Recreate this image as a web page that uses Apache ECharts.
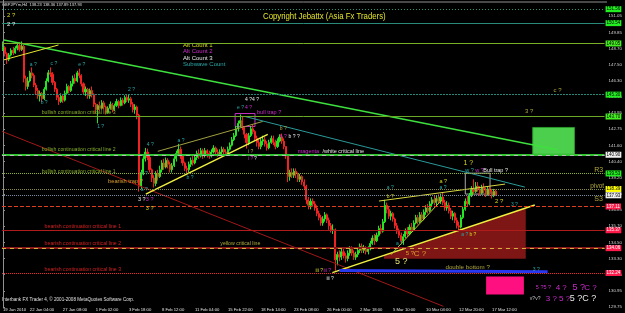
<!DOCTYPE html>
<html>
<head>
<meta charset="utf-8">
<script src="https://cdn.jsdelivr.net/npm/echarts@6/dist/echarts.min.js"></script>
<style>
  html, body { margin: 0; background: #000; }
  #chart { width: 625px; height: 313px; }
</style>
</head>
<body>
<div id="chart"></div>
<script>
// GBPJPY H4 bars, [close, low, high]; open = previous close
const firstOpen = 148.6;
const bars = [
  [148.75,148.5,149.2],[148.3,148.1,148.85],[147.9,147.55,148.4],[148.2,147.75,148.35],[148.55,148.1,148.7],
  [148.35,148.2,148.8],[148.7,148.3,148.85],[148.9,148.55,149.1],[148.6,148.45,149.15],[148.85,148.5,149.2],
  [146.5,146.2,148.95],[145.9,145.6,146.7],[146.3,145.7,146.6],[146.9,146.2,147.05],[146.7,146.5,147.3],
  [146.0,145.85,146.85],[145.6,145.3,146.15],[145.2,145.0,145.8],[145.4,144.8,145.6],[145.0,144.75,145.5],
  [145.7,144.9,145.85],[146.3,145.6,146.5],[146.9,146.2,147.1],[146.8,146.6,147.3],[146.2,146.0,146.95],
  [145.7,145.5,146.3],[145.1,144.9,145.8],[144.8,144.55,145.3],[145.2,144.7,145.4],[144.9,144.7,145.35],
  [145.4,144.8,145.6],[145.9,145.3,146.1],[145.6,145.4,146.0],[146.1,145.5,146.3],[146.5,145.9,146.7],
  [146.3,146.1,146.8],[146.9,146.2,147.05],[146.7,146.5,147.2],[146.1,145.9,146.8],[145.5,145.3,146.2],
  [145.7,145.2,145.9],[145.2,145.0,145.8],[145.6,145.0,145.75],[145.3,145.1,145.9],[144.6,144.4,145.4],
  [144.2,143.9,144.7],[144.5,143.2,144.6],[144.3,144.1,144.8],[144.7,144.2,144.9],[144.4,144.2,144.85],
  [144.0,143.85,144.5],[144.3,143.9,144.45],[144.6,144.2,144.8],[144.2,144.0,144.7],[144.5,144.1,144.65],
  [144.8,144.4,145.0],[144.5,144.3,144.9],[144.9,144.45,145.1],[144.7,144.5,145.05],[145.1,144.6,145.25],
  [144.9,144.75,145.3],[145.0,144.7,145.35],[144.6,144.4,145.15],[144.2,144.0,144.75],[144.4,143.9,144.6],
  [143.8,143.5,144.5],[138.6,138.2,143.9],[139.6,138.4,139.8],[140.6,139.4,140.8],[141.1,140.4,141.4],
  [140.7,140.5,141.35],[139.8,139.6,140.9],[139.2,138.9,139.9],[138.8,138.5,139.4],[139.5,138.6,139.7],
  [139.3,139.0,139.8],[139.8,139.2,140.1],[140.3,139.6,140.5],[140.0,139.8,140.6],[140.5,139.9,140.7],
  [140.2,139.9,140.65],[139.8,139.6,140.4],[140.1,139.6,140.3],[140.6,140.0,140.8],[141.0,140.4,141.2],
  [141.3,140.8,141.7],[140.8,140.6,141.5],[140.3,140.1,140.9],[139.9,139.7,140.4],[139.8,139.5,140.1],
  [140.2,139.6,140.4],[140.5,140.0,140.7],[140.3,140.1,140.8],[140.7,140.2,140.9],[141.0,140.5,141.2],
  [140.8,140.6,141.3],[141.2,140.7,141.4],[140.9,140.6,141.35],[141.2,140.7,141.4],[141.0,140.7,141.3],
  [140.8,140.6,141.2],[141.1,140.7,141.3],[141.4,141.0,141.6],[141.1,140.9,141.5],[140.9,140.75,141.3],
  [141.1,140.8,141.3],[141.3,140.9,141.5],[141.1,140.95,141.45],[141.0,140.9,141.3],[141.3,140.95,141.5],
  [141.6,141.2,141.8],[142.0,141.5,142.2],[142.3,141.9,142.5],[142.8,142.2,143.0],[143.2,142.6,143.4],
  [143.4,142.9,143.85],[142.9,142.7,143.7],[142.4,142.1,143.0],[141.8,141.35,142.5],[142.3,141.6,142.5],
  [142.8,142.2,143.0],[142.6,142.4,143.1],[142.1,141.9,142.7],[141.8,141.5,142.3],[141.5,141.3,142.0],
  [141.9,141.3,142.1],[142.0,141.6,142.3],[141.7,141.5,142.2],[141.4,141.2,141.9],[141.8,141.3,142.0],
  [142.1,141.7,142.3],[141.8,141.6,142.3],[141.5,141.3,142.0],[141.9,141.4,142.1],[142.2,141.8,142.4],
  [141.9,141.7,142.45],[141.5,141.3,142.1],[140.8,140.6,141.5],[139.3,138.9,140.9],[139.6,139.0,139.8],
  [139.4,139.2,139.9],[139.7,139.2,139.9],[139.5,139.2,139.9],[139.1,138.9,139.6],[139.3,138.9,139.5],
  [138.9,138.7,139.4],[138.6,138.4,139.1],[137.6,137.3,138.7],[137.2,136.9,137.8],[137.5,136.9,137.7],
  [137.3,137.1,137.7],[137.0,136.8,137.5],[136.6,136.4,137.2],[136.3,136.1,136.8],[135.9,135.7,136.5],
  [136.2,135.7,136.4],[136.5,136.0,136.7],[136.1,135.9,136.6],[135.7,135.4,136.3],[135.4,135.2,135.9],
  [135.4,135.1,135.8],[133.2,132.4,135.5],[133.6,132.8,133.8],[133.4,133.1,133.9],[133.8,133.2,134.0],
  [133.5,133.3,134.0],[133.3,133.0,133.7],[133.7,133.1,133.9],[134.0,133.5,134.2],[133.7,133.5,134.2],
  [133.4,133.2,133.9],[133.6,133.2,133.8],[133.9,133.4,134.1],[134.2,133.7,134.4],[133.9,133.7,134.4],
  [134.1,133.7,134.3],[133.8,133.6,134.2],[134.0,133.6,134.2],[134.4,133.9,134.6],[134.8,134.3,135.0],
  [134.6,134.3,135.1],[135.0,134.5,135.2],[135.5,134.9,135.7],[135.3,135.1,135.8],[136.0,135.2,136.2],
  [137.2,135.9,137.6],[136.9,136.6,137.4],[136.4,136.2,137.1],[136.6,136.1,136.8],[136.2,136.0,136.7],
  [135.7,135.5,136.3],[135.3,135.1,135.9],[135.0,134.8,135.5],[134.6,134.4,135.2],[134.9,134.3,135.1],
  [135.3,134.8,135.5],[135.1,134.9,135.6],[135.6,135.0,135.8],[135.4,135.2,135.9],[135.9,135.3,136.1],
  [136.3,135.8,136.5],[136.0,135.8,136.5],[136.5,135.9,136.7],[136.2,136.0,136.7],[136.7,136.1,136.9],
  [137.0,136.5,137.2],[136.8,136.6,137.3],[137.3,136.7,137.5],[137.6,137.1,137.8],[137.4,137.2,137.9],
  [137.7,137.2,137.95],[137.5,137.3,138.0],[137.8,137.3,138.05],[137.4,137.2,138.1],[137.0,136.8,137.6],
  [137.2,136.8,137.5],[136.8,136.6,137.4],[136.4,136.2,137.0],[136.6,136.1,136.8],[136.1,135.9,136.7],
  [135.7,135.5,136.3],[135.6,135.3,136.0],[136.3,135.5,136.5],[136.9,136.2,137.1],[137.5,136.8,137.7],
  [137.3,137.1,137.9],[137.9,137.2,138.1],[138.4,137.8,138.6],[138.2,138.0,139.1],[138.6,138.1,138.9],
  [138.4,138.2,138.9],[138.1,137.9,138.6],[138.5,138.0,138.7],[138.3,138.1,138.8],[138.0,137.8,138.5],
  [138.4,137.9,138.6],[138.2,137.9,138.6],[137.9,137.7,138.4],[138.23,137.8,138.4],[137.93,137.89,138.36]
];
const slots = 292;

const dateTickIdx = [0, 13, 29, 45, 61, 77, 93, 109, 125, 141, 157, 173, 189, 205, 221, 237];
const dateTickText = ['19 Jan 2010', '22 Jan 04:00', '27 Jan 08:00', '1 Feb 02:00', '3 Feb 18:00', '8 Feb 12:00',
  '11 Feb 04:00', '15 Feb 22:00', '18 Feb 14:00', '23 Feb 08:00', '26 Feb 00:00', '2 Mar 18:00',
  '5 Mar 10:00', '10 Mar 04:00', '12 Mar 20:00', '17 Mar 12:00'];

const priceMin = 129.75;
const priceStep = 21.3 / 18;
const priceTicks = ['129.75', '130.95', '132.15', '133.30', '134.50', '135.70', '136.85', '138.05', '139.20',
  '140.40', '141.60', '142.75', '143.95', '145.15', '146.30', '147.50', '148.70', '149.85', '151.05'];

// horizontal levels
const levelPrices = [151.56, 150.54, 149.05, 145.30, 143.70, 140.90, 139.53, 138.39, 137.93, 137.11, 135.37, 134.06, 132.24];

// trend lines, [bar index, price] end points
const trendLines = [
  [[0.46, 149.30], [268.7, 141.26]],
  [[0.46, 147.85], [26.9, 148.94]],
  [[-0.5, 142.61], [213.4, 129.80]],
  [[69.2, 138.02], [128.3, 142.39]],
  [[75.0, 141.15], [125.9, 143.34]],
  [[117.3, 143.70], [252.9, 138.53]],
  [[159.6, 132.27], [257.7, 137.22]],
  [[188.0, 133.58], [212.5, 137.58]],
  [[182.2, 137.51], [243.3, 138.75]],
  [[163.0, 132.42], [263.9, 132.34]]
];

// boxes and zones, [bar index, price] corners
const shapes = [
  [[184.6, 133.53], [253.3, 137.0], [253.3, 133.29], [184.6, 133.29]],
  [[112.5, 143.92], [122.1, 143.92], [122.1, 142.97], [112.5, 142.97]],
  [[224.0, 139.55], [236.0, 139.55], [236.0, 138.02], [224.0, 138.02]],
  [[256.7, 142.90], [276.9, 142.90], [276.9, 140.93], [256.7, 140.93]],
  [[234.1, 131.98], [252.4, 131.98], [252.4, 130.67], [234.1, 130.67]]
];

const TEAL = '#2aa8a8', YEL = '#d8d820', MAG = '#cc2ccc', WHT = '#e8e8e8', OLV = '#b0a840',
      GRN = '#84ac2c', RED = '#d42020', ORG = '#dca030';

// text objects: [bar index, price, text]
const notes = [
  [1.9, 151.12, '2 ?'], [1.9, 150.47, '2 ?'],
  [12.96, 147.48, 'a ?'], [23.06, 147.56, 'c ?'], [36.5, 147.48, 'e ?'], [18.25, 144.72, 'b ?'],
  [45.65, 142.97, '1 ?'], [60.56, 145.66, '2 ?'], [69.7, 141.66, '4 ?'], [84.6, 141.95, 'a ?'],
  [88.9, 139.19, 'b ?'], [66.8, 139.55, 'b ?'], [66.8, 138.31, 'a ?'],
  [65.37, 137.66, '3 ?'], [69.2, 137.66, '3 ?'], [69.2, 137.00, '3 ?'],
  [50.94, 138.97, 'bearish trap ?'],
  [18.73, 143.99, 'bullish continuation critical line 3'],
  [18.73, 141.30, 'bullish continuation critical line 2'],
  [18.73, 139.70, 'bullish continuation critical line 1'],
  [20.17, 135.62, 'bearish continuation critical line 1'],
  [20.17, 134.38, 'bearish continuation critical line 2'],
  [20.17, 132.49, 'bearish continuation critical line 3'],
  [105.3, 134.38, 'yellow critical line'],
  [142.8, 141.15, 'magenta'], [154.8, 141.15, '/white critical line'],
  [123.1, 143.99, 'bull trap ?'], [113.4, 144.35, 'e ?'], [117.3, 144.35, '4 ?'], [117.3, 144.94, '4 ?4 ?'],
  [134.1, 142.83, 'b ?'], [134.1, 142.24, 'b ?'], [138.4, 142.24, 'b ? ?'],
  [118.7, 141.15, 'i ?'], [118.7, 140.64, 'i ?'], [121.6, 140.64, '?'],
  [186.0, 138.46, 'a ?'], [186.0, 137.80, 'b ?'],
  [151.4, 132.42, 'iii ?'], [155.3, 132.42, 'iii ?'], [156.7, 131.84, 'iii ?'],
  [190.4, 134.38, 'a ?'], [189.9, 133.07, '5 ?'], [195.2, 133.66, '5 ?'], [199.0, 133.66, 'C ?'],
  [222.1, 135.04, 'a ?'], [226.0, 135.04, 'b ?'],
  [214.4, 132.64, 'double bottom ?'], [256.7, 132.49, '3 ?'],
  [258.2, 131.18, '5 ?5 ?'], [267.8, 131.18, '4 ?'], [276.0, 131.18, '5 ?'], [281.7, 131.18, 'C ?'],
  [255.3, 130.38, 'v?v?'], [263.0, 130.38, '3 ? 5 ?'], [274.6, 130.38, '5 ?C ?'],
  [223.1, 140.28, '1 ?'], [224.0, 139.77, 'w ?'], [228.8, 139.77, 'w ?'], [232.7, 139.77, 'Bull trap ?'],
  [211.5, 138.97, 'a ?'], [211.5, 138.46, 'a ?'],
  [252.9, 144.06, '3 ?'], [266.8, 145.59, 'c ?'], [238.4, 137.51, '2 ?'], [246.1, 137.22, '3 ?'],
  [286.5, 139.77, 'R3'], [284.6, 138.61, 'pivot'], [286.5, 137.66, 'S3']
];
const noteStyle = [
  [YEL, 6], [WHT, 6],
  [TEAL, 5], [TEAL, 5], [TEAL, 5], [TEAL, 5],
  [TEAL, 5], [TEAL, 5], [TEAL, 5], [TEAL, 5],
  [TEAL, 5], [TEAL, 5], [TEAL, 5],
  [WHT, 5.5], [MAG, 5.5], [YEL, 5.5],
  [ORG, 5.7],
  [GRN, 5.2], [GRN, 5.2], [GRN, 5.2],
  [RED, 5.2], [RED, 5.2], [RED, 5.2],
  [OLV, 5.2],
  [MAG, 5.5], [WHT, 5.5],
  [MAG, 5.5], [TEAL, 5], [MAG, 5], [WHT, 5],
  [OLV, 5], [MAG, 5], [WHT, 5],
  [OLV, 5], [MAG, 5], [WHT, 5],
  [TEAL, 5], [YEL, 5],
  [YEL, 5], [MAG, 5], [WHT, 5],
  [TEAL, 5], ['#e6e070', 9], [ORG, 6], [ORG, 8],
  [TEAL, 5], [YEL, 5],
  [OLV, 6.2], [TEAL, 5],
  [MAG, 5.5], [MAG, 8], [MAG, 9], [MAG, 8],
  ['#c0c0c0', 5], [MAG, 8], [WHT, 9],
  [YEL, 7], [TEAL, 5.5], [MAG, 5.5], [WHT, 5.5],
  [YEL, 5.5], [TEAL, 5],
  [OLV, 6], [OLV, 6], [YEL, 6], [TEAL, 5],
  [OLV, 7], [OLV, 6.5], [OLV, 7]
];

const FONT = '"Liberation Sans", Arial, sans-serif';

const levelLook = [
  { color: '#2f9a7a', type: [1, 2], width: 1, box: '#22ee22', ink: '#000' },
  { color: '#2a8a7a', type: 'solid', width: 1, box: '#22ee22', ink: '#000' },
  { color: '#7ab028', type: 'solid', width: 1, box: '#44ee22', ink: '#000' },
  { color: '#2a8a7a', type: [2, 1], width: 1, box: '#22ee22', ink: '#000' },
  { color: '#6aa828', type: 'solid', width: 1, box: '#44ee22', ink: '#000' },
  { color: '#33c833', type: 'solid', width: 2, box: '#f0f0f0', ink: '#000', over: '#b8b8b8' },
  { color: '#98b838', type: [1, 1], width: 1, box: '#22ee22', ink: '#000' },
  { color: '#909050', type: [1, 1], width: 1, box: '#ffff00', ink: '#000' },
  { color: '#8090a8', type: [1, 1], width: 1, box: '#f0f0f0', ink: '#000' },
  { color: '#e04020', type: [4, 2], width: 1, box: '#ff1a4a', ink: '#fff' },
  { color: '#b01c1c', type: 'solid', width: 1, box: '#ff1a4a', ink: '#fff' },
  { color: '#8a1a1a', type: 'solid', width: 2, box: '#ff1a4a', ink: '#fff', over: '#d8b040' },
  { color: '#ff2a2a', type: [1, 1], width: 1, box: '#ff1a4a', ink: '#fff' }
];

const lineLook = [
  { color: '#3ee03e', width: 1.5 },
  { color: '#e8e830', width: 1 },
  { color: '#a01818', width: 1 },
  { color: '#f0f040', width: 1.5 },
  { color: '#a0a040', width: 1 },
  { color: '#2a9a9a', width: 1 },
  { color: '#f0f040', width: 1.5 },
  { color: '#c8c830', width: 1 },
  { color: '#d8d840', width: 1 },
  { color: '#2838f0', width: 3 }
];

const shapeLook = [
  { fill: '#7e1616', stroke: 'none' },
  { fill: 'none', stroke: '#c030c0' },
  { fill: 'none', stroke: '#a8a8a8' },
  { fill: '#4ccf4c', stroke: '#2a9a2a' },
  { fill: '#ff1080', stroke: 'none' }
];

const ohlc = bars.map((b, i) => [i === 0 ? firstOpen : bars[i - 1][0], b[0], b[1], b[2]]);
const cats = Array.from({ length: slots }, (_, i) => i);

const markLines = [];
levelPrices.forEach((p, k) => {
  const s = levelLook[k];
  markLines.push({
    yAxis: p,
    lineStyle: { color: s.color, type: s.type, width: s.width },
    label: {
      show: true, position: 'end', distance: 1, formatter: p.toFixed(2),
      backgroundColor: s.box, color: s.ink, fontSize: 4.5, fontFamily: FONT, padding: [1, 1, 0, 1]
    }
  });
  if (s.over) {
    markLines.push({ yAxis: p, lineStyle: { color: s.over, type: [4, 4], width: 1 }, label: { show: false } });
  }
});

const chart = echarts.init(document.getElementById('chart'));
chart.setOption({
  animation: false,
  backgroundColor: '#000',
  grid: { left: 0, right: 18, top: -2, bottom: 6 },
  xAxis: [
    {
      type: 'category', data: cats, boundaryGap: true,
      axisLine: { show: false },
      axisTick: { show: false },
      axisLabel: {
        interval: (i) => dateTickIdx.includes(i),
        formatter: (v) => dateTickText[dateTickIdx.indexOf(+v)] || '',
        color: '#e0e0e0', fontSize: 4.2, fontFamily: FONT, align: 'left', margin: 1
      },
      splitLine: { show: false }
    },
    { type: 'value', min: -0.5, max: slots - 0.5, show: false }
  ],
  yAxis: {
    type: 'value', position: 'right',
    min: priceMin, max: priceMin + 19 * priceStep, interval: priceStep,
    axisLine: { show: true, lineStyle: { color: '#909090' } },
    axisTick: { show: true, length: 2, lineStyle: { color: '#909090' } },
    axisLabel: {
      color: '#d0d0d0', fontSize: 4.4, fontFamily: FONT, margin: 4, showMaxLabel: false,
      formatter: (v) => priceTicks[Math.round((v - priceMin) / priceStep)] || ''
    },
    splitLine: { show: false }
  },
  graphic: [
    { type: 'line', shape: { x1: 0, y1: 2, x2: 607, y2: 2 }, style: { stroke: '#909090', lineWidth: 1 } },
    { type: 'text', x: 2, y: 3, style: { text: 'GBPJPYm,H4  138.23 138.36 137.89 137.93', fill: '#e0e0e0', font: '4px ' + FONT } },
    { type: 'text', x: 263, y: 11, scaleX: 0.82, style: { text: 'Copyright Jebattx (Asia Fx Traders)', fill: '#e4e42c', font: '9.5px ' + FONT } },
    { type: 'text', x: 183, y: 42, style: { text: 'Alt Count 1', fill: YEL, font: '6px ' + FONT } },
    { type: 'text', x: 183, y: 48.5, style: { text: 'Alt Count 2', fill: MAG, font: '6px ' + FONT } },
    { type: 'text', x: 183, y: 55, style: { text: 'Alt Count 3', fill: WHT, font: '6px ' + FONT } },
    { type: 'text', x: 183, y: 61.5, style: { text: 'Subwave Count', fill: TEAL, font: '6px ' + FONT } },
    { type: 'text', x: 2, y: 297.5, style: { text: 'Interbank FX Trader 4, \u00a9 2001-2008 MetaQuotes Software Corp.', fill: '#e0e0e0', font: '4.6px ' + FONT } }
  ],
  series: [
    {
      type: 'custom', xAxisIndex: 1, z: 1, silent: true,
      data: shapes.map((_, k) => [k]),
      renderItem: (params, api) => {
        const k = api.value(0);
        const s = shapeLook[k];
        return {
          type: 'polygon',
          shape: { points: shapes[k].map((pt) => api.coord(pt)) },
          style: { fill: s.fill, stroke: s.stroke, lineWidth: 1 }
        };
      }
    },
    {
      type: 'candlestick', name: 'GBPJPY', z: 3,
      data: ohlc, barWidth: 1.6,
      itemStyle: { color: '#22e622', color0: '#f02222', borderColor: '#22e622', borderColor0: '#f02222', borderWidth: 1 },
      markLine: { silent: true, symbol: ['none', 'none'], animation: false, data: markLines }
    },
    ...trendLines.map((seg, k) => ({
      type: 'line', xAxisIndex: 1, z: 4, silent: true, symbol: 'none',
      data: seg, lineStyle: { color: lineLook[k].color, width: lineLook[k].width }
    })),
    {
      type: 'custom', xAxisIndex: 1, z: 6, silent: true,
      data: notes.map((n, k) => [n[0], n[1], k]),
      renderItem: (params, api) => {
        const k = api.value(2);
        const p = api.coord([api.value(0), api.value(1)]);
        return {
          type: 'text', x: p[0], y: p[1],
          style: {
            text: notes[k][2], fill: noteStyle[k][0],
            font: noteStyle[k][1] + 'px ' + FONT, align: 'left', verticalAlign: 'middle'
          }
        };
      }
    }
  ]
});
</script>
</body>
</html>
